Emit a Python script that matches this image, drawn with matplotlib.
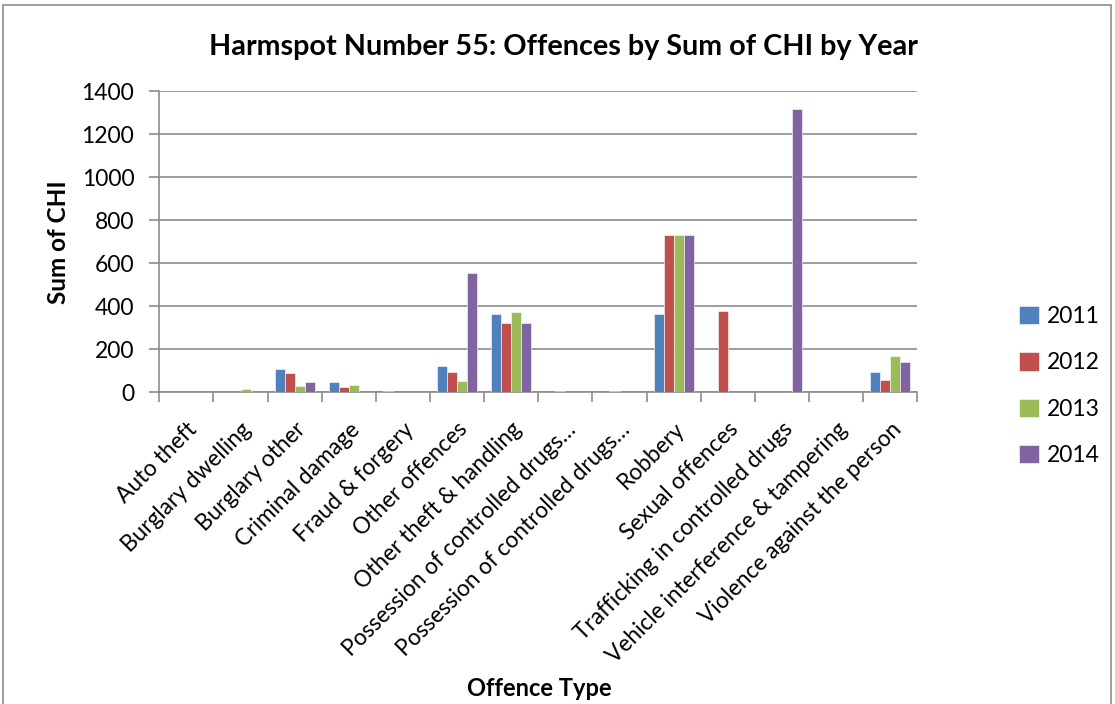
import matplotlib
matplotlib.use("Agg")
import matplotlib.pyplot as plt
from matplotlib.patches import Rectangle
import numpy as np

categories = [
    "Auto theft", "Burglary dwelling", "Burglary other", "Criminal damage",
    "Fraud & forgery", "Other offences", "Other theft & handling",
    "Possession of controlled drugs…", "Possession of controlled drugs…",
    "Robbery", "Sexual offences", "Trafficking in controlled drugs",
    "Vehicle interference & tampering", "Violence against the person",
]
years = ["2011", "2012", "2013", "2014"]
v2011 = [0, 0, 108, 48, 6, 122, 363, 1, 1, 365, 0, 0, 0, 95]
v2012 = [0, 0, 88, 23, 2, 96, 323, 6, 4, 730, 378, 0, 2, 57]
v2013 = [0, 14, 28, 32, 0, 54, 372, 1, 1, 730, 0, 0, 0, 167]
v2014 = [0, 0, 48, 2, 0, 556, 322, 1, 1, 730, 0, 1318, 0, 141]
colors = ["#4F81BD", "#C0504D", "#9BBB59", "#8064A2"]

plt.rcParams["font.family"] = ["Lato", "DejaVu Sans"]

fig = plt.figure(figsize=(11.15, 7.04), dpi=100)
ax = fig.add_axes([159.3 / 1115, 1 - 392.3 / 704, 758 / 1115, 301 / 704])

x = np.arange(len(categories))
w = 0.185
series = [v2011, v2012, v2013, v2014]
for i, (vals, c, yr) in enumerate(zip(series, colors, years)):
    ax.bar(x + (i - 1.5) * w, vals, width=w, color=c, label=yr,
           edgecolor="white", linewidth=0.4, zorder=3)

ax.set_xlim(-0.5, len(categories) - 0.5)
ax.set_ylim(0, 1400)
ax.set_yticks(np.arange(0, 1401, 200))
ax.yaxis.grid(True, color="#8c8c8c", linewidth=1.2, zorder=0)
ax.set_axisbelow(True)

ax.set_xticks(np.arange(-0.5, len(categories), 1.0))
ax.set_xticklabels([])
ax.set_xticks(x, minor=True)
ax.set_xticklabels(categories, minor=True, rotation=45, ha="right",
                   rotation_mode="anchor", fontsize=16.3)
ax.tick_params(axis="x", which="minor", length=0, pad=19)
ax.tick_params(axis="x", which="major", length=7, width=1.2, color="#8c8c8c")
ax.tick_params(axis="y", length=7, width=1.2, color="#8c8c8c", labelsize=16.5, pad=11)

for side in ["top", "right"]:
    ax.spines[side].set_visible(False)
for side in ["left", "bottom"]:
    ax.spines[side].set_color("#8c8c8c")
    ax.spines[side].set_linewidth(1.2)

fig.text(58 / 1115, 1 - 242 / 704, "Sum of CHI", ha="center", va="center",
         rotation=90, fontsize=17.5, fontweight="bold")
fig.text(539 / 1115, 1 - 688 / 704, "Offence Type", ha="center", va="center",
         fontsize=17, fontweight="bold")
fig.text(563 / 1115, 1 - 47 / 704, "Harmspot Number 55: Offences by Sum of CHI by Year",
         ha="center", va="center", fontsize=20.7, fontweight="bold")

handles, labels = ax.get_legend_handles_labels()
fig.legend(handles, labels, loc="center left",
           bbox_to_anchor=(1010 / 1115, 1 - 386 / 704), frameon=False,
           fontsize=16.5, handlelength=0.85, handleheight=0.85,
           labelspacing=1.1, handletextpad=0.35, borderaxespad=0)

fig.patches.append(Rectangle((3 / 1115, -0.05), 1108 / 1115, 1 - 5 / 704 + 0.05,
                             transform=fig.transFigure, fill=False,
                             edgecolor="#8c8c8c", linewidth=1.2))

fig.savefig("out.png", dpi=100)
